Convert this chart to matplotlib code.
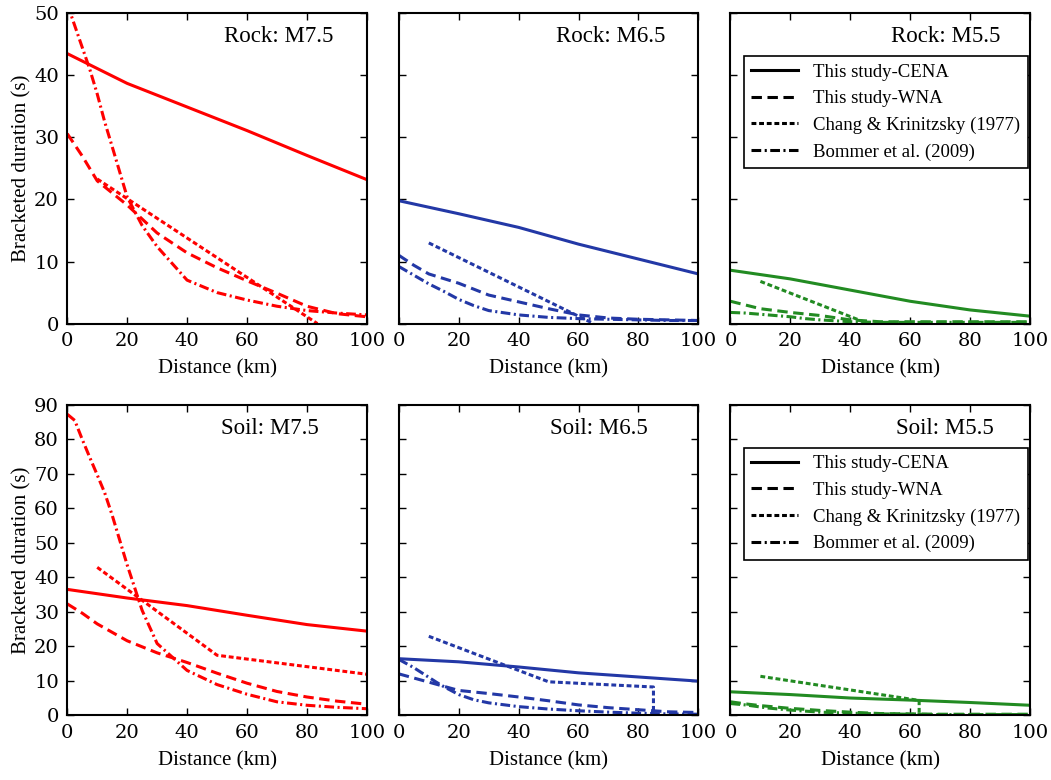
import matplotlib.pyplot as plt
from matplotlib.lines import Line2D

plt.rcParams['font.family'] = 'DejaVu Serif'
plt.rcParams['lines.scale_dashes'] = False

# Distance grids (km)
cena_x = [0, 20, 40, 60, 80, 100]
wna_x = [0, 5, 10, 20, 30, 40, 50, 60, 70, 80, 90, 100]
bommer_x = [0, 2.5, 5, 7.5, 10, 12.5, 15, 20, 25, 30, 40, 50, 60, 70, 80, 90, 100]

# This study-CENA (s)
rock75_cena = [43.5, 38.7, 34.9, 31.1, 27.1, 23.2]
rock65_cena = [19.8, 17.7, 15.5, 12.8, 10.4, 8.0]
rock55_cena = [8.6, 7.2, 5.4, 3.6, 2.2, 1.2]
soil75_cena = [36.5, 34.0, 31.8, 29.0, 26.3, 24.4]
soil65_cena = [16.4, 15.5, 14.0, 12.3, 11.1, 9.9]
soil55_cena = [6.8, 6.0, 5.0, 4.4, 3.7, 2.9]

# This study-WNA (s)
rock75_wna = [30.6, 27.0, 23.0, 19.1, 14.6, 11.4, 9.0, 6.9, 4.9, 2.8, 1.6, 1.1]
rock65_wna = [11.0, 9.4, 8.0, 6.5, 4.6, 3.5, 2.4, 1.4, 0.9, 0.7, 0.6, 0.5]
rock55_wna = [3.6, 3.0, 2.4, 1.8, 1.3, 0.6, 0.3, 0.3, 0.3, 0.3, 0.3, 0.3]
soil75_wna = [32.3, 29.6, 26.5, 21.6, 18.1, 15.3, 12.2, 9.3, 6.9, 5.3, 4.1, 3.2]
soil65_wna = [12.0, 10.8, 9.6, 7.2, 6.3, 5.3, 4.2, 3.0, 2.2, 1.6, 1.0, 0.8]
soil55_wna = [3.9, 3.3, 2.8, 2.0, 1.4, 0.9, 0.5, 0.4, 0.3, 0.3, 0.3, 0.3]

# Bommer et al. (2009) (s)
rock75_bommer = [51.5, 48.0, 44.5, 41.0, 37.0, 32.5, 28.5, 20.4, 15.8, 12.4, 7.0, 5.0, 3.8, 2.8, 2.1, 1.7, 1.4]
rock65_bommer = [9.2, 8.5, 7.8, 7.1, 6.4, 5.8, 5.2, 3.9, 2.9, 2.1, 1.4, 1.0, 0.8, 0.7, 0.6, 0.5, 0.5]
rock55_bommer = [1.8, 1.75, 1.7, 1.6, 1.5, 1.4, 1.3, 1.1, 0.8, 0.6, 0.3, 0.2, 0.2, 0.2, 0.2, 0.2, 0.2]
soil75_bommer = [87.3, 85.5, 80.0, 74.8, 69.7, 64.5, 58.0, 43.6, 30.4, 20.8, 13.0, 8.9, 6.1, 3.9, 2.9, 2.3, 1.9]
soil65_bommer = [16.2, 15.0, 13.8, 12.4, 11.0, 9.6, 8.3, 6.0, 4.5, 3.6, 2.5, 1.8, 1.3, 0.9, 0.6, 0.4, 0.3]
soil55_bommer = [3.4, 3.2, 3.0, 2.7, 2.4, 2.1, 1.9, 1.5, 1.2, 0.9, 0.6, 0.4, 0.3, 0.2, 0.2, 0.2, 0.2]

# Chang & Krinitzsky (1977) (km, s)
rock75_chang_x = [10, 83.5]
rock75_chang_y = [23.3, 0.0]
rock65_chang_x = [10, 65]
rock65_chang_y = [13.0, 0.0]
rock55_chang_x = [10, 46]
rock55_chang_y = [6.8, 0.0]
soil75_chang_x = [10, 50, 100]
soil75_chang_y = [42.9, 17.4, 11.9]
soil65_chang_x = [10, 50, 85, 85]
soil65_chang_y = [22.9, 9.7, 8.2, 0.0]
soil55_chang_x = [10, 63, 63]
soil55_chang_y = [11.3, 4.3, 0.0]

red = '#ff0000'
blue = '#2338a6'
green = '#228b22'

cena_style = dict(linestyle='-')
wna_style = dict(dashes=(7.5, 4))
chang_style = dict(dashes=(3.5, 2))
bommer_style = dict(dashes=(7, 2.5, 1.5, 2.5))
lw = 2.2

fig, axes = plt.subplots(2, 3, figsize=(10.51, 7.8), dpi=100)
fig.subplots_adjust(left=0.064, right=0.980, bottom=0.083, top=0.983,
                    wspace=0.107, hspace=0.262)

panels = [
    (axes[0, 0], 'Rock: M7.5', red, rock75_cena, rock75_wna, rock75_bommer, rock75_chang_x, rock75_chang_y, 0.89),
    (axes[0, 1], 'Rock: M6.5', blue, rock65_cena, rock65_wna, rock65_bommer, rock65_chang_x, rock65_chang_y, 0.89),
    (axes[0, 2], 'Rock: M5.5', green, rock55_cena, rock55_wna, rock55_bommer, rock55_chang_x, rock55_chang_y, 0.90),
    (axes[1, 0], 'Soil: M7.5', red, soil75_cena, soil75_wna, soil75_bommer, soil75_chang_x, soil75_chang_y, 0.84),
    (axes[1, 1], 'Soil: M6.5', blue, soil65_cena, soil65_wna, soil65_bommer, soil65_chang_x, soil65_chang_y, 0.83),
    (axes[1, 2], 'Soil: M5.5', green, soil55_cena, soil55_wna, soil55_bommer, soil55_chang_x, soil55_chang_y, 0.88),
]

for i, (ax, title, color, cena, wna, bommer, chang_x, chang_y, tx) in enumerate(panels):
    ax.plot(cena_x, cena, color=color, lw=lw, **cena_style)
    ax.plot(wna_x, wna, color=color, lw=lw, **wna_style)
    ax.plot(chang_x, chang_y, color=color, lw=lw, **chang_style)
    ax.plot(bommer_x, bommer, color=color, lw=lw, **bommer_style)

    ax.set_xlim(0, 100)
    ax.set_xticks([0, 20, 40, 60, 80, 100])
    if i < 3:
        ax.set_ylim(0, 50)
        ax.set_yticks(range(0, 51, 10))
    else:
        ax.set_ylim(0, 90)
        ax.set_yticks(range(0, 91, 10))
    if i % 3 != 0:
        ax.set_yticklabels([])
    else:
        ax.set_ylabel('Bracketed duration (s)', fontfamily='Liberation Serif', fontsize=15, labelpad=2)
    ax.set_xlabel('Distance (km)', fontfamily='Liberation Serif', fontsize=15, labelpad=7)

    ax.tick_params(direction='in', top=True, right=True, length=5, width=1, labelsize=14)
    ax.tick_params(axis='x', pad=6)
    ax.tick_params(axis='y', pad=6)
    for s in ax.spines.values():
        s.set_linewidth(1.5)

    ax.text(tx, 0.925, title, transform=ax.transAxes, ha='right', va='center',
            fontfamily='Liberation Serif', fontsize=16.5)

# Legend in the right column
handles = [
    Line2D([], [], color='black', lw=lw, **cena_style),
    Line2D([], [], color='black', lw=lw, **wna_style),
    Line2D([], [], color='black', lw=lw, **chang_style),
    Line2D([], [], color='black', lw=lw, **bommer_style),
]
labels = ['This study-CENA', 'This study-WNA', 'Chang & Krinitzsky (1977)', 'Bommer et al. (2009)']
for ax in [axes[0, 2], axes[1, 2]]:
    leg = ax.legend(handles, labels, loc='upper right', bbox_to_anchor=(0.992, 0.862),
                    prop={'family': 'Liberation Serif', 'size': 13.5},
                    fancybox=False, framealpha=1, edgecolor='black',
                    handlelength=2.5, labelspacing=0.5, borderaxespad=0)
    leg.get_frame().set_linewidth(1.2)

plt.savefig('out.png', dpi=100)
